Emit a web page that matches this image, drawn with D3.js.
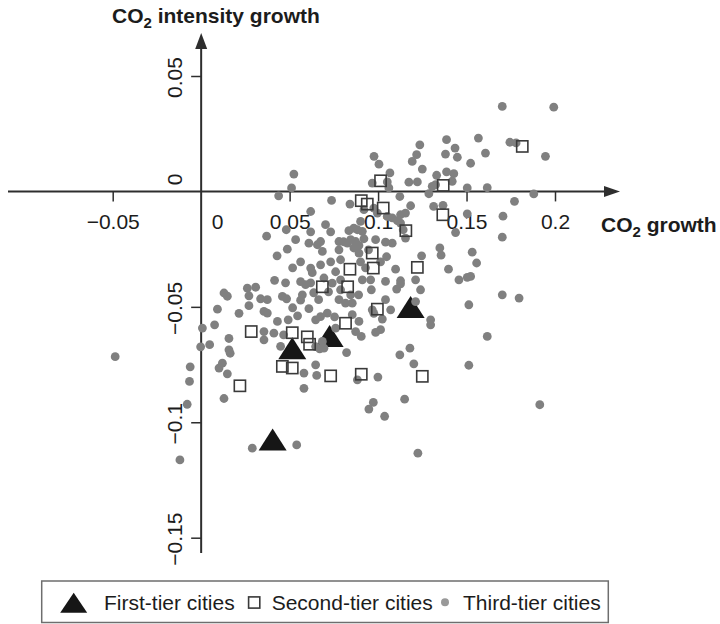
<!DOCTYPE html>
<html>
<head>
<meta charset="utf-8">
<script src="https://cdn.jsdelivr.net/npm/d3@7"></script>
<style>
  html, body { margin: 0; padding: 0; background: #fff; }
  svg { display: block; font-family: "Liberation Sans", Arial, Helvetica, sans-serif; }
</style>
</head>
<body>
<svg id="chart" width="720" height="624"></svg>
<script>
// [CO2 growth, CO2 intensity growth] per city
const firstTier = [
  [0.0404, -0.1090], [0.0515, -0.0695], [0.0726, -0.0642], [0.1184, -0.0517]
];

const secondTier = [
  [0.1014, 0.0046], [0.0905, -0.0040], [0.0939, -0.0055], [0.1029, -0.0072],
  [0.1368, 0.0026], [0.1366, -0.0101], [0.1157, -0.0170], [0.0967, -0.0267],
  [0.0973, -0.0332], [0.1222, -0.0329], [0.0841, -0.0337], [0.0828, -0.0413],
  [0.0685, -0.0413], [0.0996, -0.0510], [0.0816, -0.0571], [0.0732, -0.0799],
  [0.0905, -0.0792], [0.1250, -0.0801], [0.1815, 0.0195], [0.0283, -0.0607],
  [0.0515, -0.0612], [0.0600, -0.0630], [0.0613, -0.0662], [0.0459, -0.0758],
  [0.0515, -0.0765], [0.0219, -0.0842]
];

const thirdTier = [
  [0.0524, 0.0075], [0.0511, 0.0015], [0.0977, 0.0152], [0.1005, 0.0118], [0.0967, 0.0036],
  [0.1052, 0.0041], [0.1061, 0.0015], [0.1067, 0.0080], [0.1174, 0.0040], [0.1222, 0.0041],
  [0.1193, 0.0130], [0.1218, 0.0159], [0.1236, 0.0202], [0.1250, 0.0097], [0.1287, -0.0010],
  [0.1306, 0.0022], [0.1331, 0.0070], [0.1387, 0.0224], [0.1381, 0.0162], [0.1387, 0.0085],
  [0.1428, 0.0077], [0.1435, 0.0188], [0.1448, 0.0148], [0.1419, 0.0044], [0.1504, 0.0015],
  [0.1523, 0.0122], [0.1567, 0.0231], [0.1607, 0.0166], [0.1617, 0.0016], [0.1702, 0.0368],
  [0.1745, 0.0213], [0.1780, 0.0210], [0.1946, 0.0152], [0.1993, 0.0365], [0.1325, 0.0029],
  [0.0438, -0.0019], [0.0619, -0.0087], [0.0737, -0.0039], [0.0841, -0.0055], [0.1123, -0.0022],
  [0.1184, -0.0062], [0.1314, -0.0065], [0.1367, -0.0060], [0.1504, -0.0097], [0.1706, -0.0107],
  [0.1771, -0.0043], [0.1880, -0.0011], [0.0976, -0.0072], [0.0920, -0.0079], [0.1052, -0.0108],
  [0.1080, -0.0115], [0.1127, -0.0101], [0.1155, -0.0094], [0.0996, -0.0094], [0.0901, -0.0130],
  [0.1109, -0.0127], [0.1127, -0.0137], [0.0481, -0.0166], [0.0619, -0.0175], [0.0370, -0.0194],
  [0.0863, -0.0159], [0.0883, -0.0166], [0.0835, -0.0170], [0.0911, -0.0173], [0.1142, -0.0166],
  [0.1438, -0.0178], [0.1702, -0.0198],
  [0.0609, -0.0224], [0.0657, -0.0231], [0.0675, -0.0217], [0.0487, -0.0250], [0.0429, -0.0279],
  [0.0685, -0.0260], [0.0779, -0.0217], [0.0805, -0.0218], [0.0826, -0.0224], [0.0845, -0.0209],
  [0.0873, -0.0217], [0.0920, -0.0205], [0.0892, -0.0234], [0.0863, -0.0245], [0.0779, -0.0253],
  [0.0892, -0.0267], [0.0788, -0.0296], [0.1042, -0.0220], [0.1080, -0.0224], [0.1155, -0.0202],
  [0.1246, -0.0279], [0.1349, -0.0245], [0.1356, -0.0276], [0.1532, -0.0263], [0.1557, -0.0310],
  [0.0619, -0.0332], [0.0628, -0.0352], [0.0675, -0.0318], [0.1099, -0.0337], [0.1398, -0.0337],
  [0.1457, -0.0383], [0.1504, -0.0372], [0.0415, -0.0385], [0.0562, -0.0391], [0.0590, -0.0404],
  [0.0694, -0.0375], [0.0788, -0.0383], [0.0911, -0.0383], [0.0958, -0.0383], [0.1042, -0.0390],
  [0.1127, -0.0387], [0.1523, -0.0368],
  [0.0261, -0.0419], [0.0308, -0.0415], [0.0270, -0.0452], [0.0129, -0.0440], [0.0148, -0.0454],
  [0.0336, -0.0465], [0.0374, -0.0469], [0.0459, -0.0455], [0.0483, -0.0465], [0.0572, -0.0448],
  [0.0562, -0.0471], [0.0092, -0.0510], [0.0214, -0.0528], [0.0270, -0.0495], [0.0355, -0.0520],
  [0.0374, -0.0527], [0.0431, -0.0563], [0.0492, -0.0556], [0.0609, -0.0508], [0.0647, -0.0556],
  [0.0675, -0.0542], [0.0713, -0.0527], [0.0007, -0.0592], [0.0076, -0.0578], [0.0157, -0.0637],
  [0.0355, -0.0607], [0.0355, -0.0643], [0.0411, -0.0614], [0.0466, -0.0621], [0.0449, -0.0671],
  [-0.0003, -0.0673], [0.0048, -0.0664], [0.0157, -0.0686], [0.0164, -0.0701], [0.0120, -0.0744],
  [0.0101, -0.0765], [0.0148, -0.0790], [-0.0062, -0.0760], [-0.0066, -0.0823], [-0.0079, -0.0922],
  [0.0129, -0.0897], [-0.0120, -0.1163], [-0.0486, -0.0716], [0.0289, -0.1112], [0.0540, -0.1098],
  [0.0741, -0.0397], [0.0788, -0.0426], [0.0779, -0.0469], [0.0816, -0.0484], [0.0854, -0.0484],
  [0.1127, -0.0400], [0.1105, -0.0423], [0.0962, -0.0426], [0.1212, -0.0477], [0.0967, -0.0513],
  [0.0976, -0.0528], [0.1024, -0.0553], [0.0892, -0.0563], [0.0854, -0.0534], [0.1297, -0.0556],
  [0.1297, -0.0578], [0.1513, -0.0491], [0.1702, -0.0448], [0.1797, -0.0462], [0.0760, -0.0592],
  [0.0754, -0.0543], [0.0986, -0.0611], [0.1014, -0.0599], [0.0905, -0.0628], [0.0685, -0.0650],
  [0.0694, -0.0679], [0.0873, -0.0607],
  [0.0581, -0.0787], [0.0581, -0.0853], [0.0647, -0.0751], [0.0653, -0.0797], [0.0647, -0.0672],
  [0.0670, -0.0682], [0.0822, -0.0698], [0.1123, -0.0708], [0.1180, -0.0679], [0.1202, -0.0747],
  [0.1513, -0.0753], [0.0883, -0.0816], [0.0999, -0.0804], [0.1150, -0.0900], [0.0973, -0.0914],
  [0.0948, -0.0943], [0.1037, -0.0974], [0.1225, -0.1134], [0.1617, -0.0628], [0.1914, -0.0924],
  [0.0732, -0.0305], [0.0760, -0.0348], [0.0901, -0.0305], [0.0929, -0.0331], [0.1014, -0.0305],
  [0.1048, -0.0283], [0.0720, -0.0435], [0.0890, -0.0448], [0.1042, -0.0469], [0.1071, -0.0513],
  [0.0562, -0.0305], [0.0517, -0.0331], [0.0477, -0.0396], [0.0845, -0.0448], [0.0664, -0.0469],
  [0.0517, -0.0504], [0.0545, -0.0539], [0.0619, -0.0396], [0.0636, -0.0439], [0.0946, -0.0253],
  [0.0986, -0.0209], [0.0732, -0.0175], [0.0703, -0.0144], [0.0534, -0.0209], [0.1212, -0.0383],
  [0.1240, -0.0426]
];

const xTickValues = [-0.05, 0, 0.05, 0.1, 0.15, 0.2];
const xTickLabels = ["\u22120.05", "0", "0.05", "0.1", "0.15", "0.2"];
const yTickValues = [0.05, 0, -0.05, -0.1, -0.15];
const yTickLabels = ["0.05", "0", "\u22120.05", "\u22120.1", "\u22120.15"];
const seriesNames = ["First-tier cities", "Second-tier cities", "Third-tier cities"];

const svg = d3.select("#chart");
const ink = "#1c1c1c";
const axisColor = "#2e2e2e";
const dotColor = "#808080";
const squareColor = "#3a3a3a";
const fontSize = 21;

const x = d3.scaleLinear().domain([-0.05, 0.2]).range([112.7, 555]);
const y = d3.scaleLinear().domain([0.05, -0.15]).range([76, 537.7]);
const x0 = x(0), y0 = y(0);

// axis extents (data units) beyond the labelled range
const xAxisFrom = x.invert(8), xAxisTo = x.invert(620);
const yAxisTop = y.invert(33), yAxisBottom = y.invert(553);

// Triangle marker: flattened, centred on its centroid
function triPath(cx, cy, w = 28, h = 22) {
  return `M${cx},${cy - h * 2 / 3}L${cx + w / 2},${cy + h / 3}L${cx - w / 2},${cy + h / 3}Z`;
}

// ---- axes: crossing lines with arrow heads ----
const axes = svg.append("g");
axes.append("line")
  .attr("x1", x(xAxisFrom)).attr("x2", x(xAxisTo) - 10)
  .attr("y1", y0).attr("y2", y0)
  .attr("stroke", axisColor).attr("stroke-width", 2);
axes.append("path")
  .attr("d", `M${x(xAxisTo)},${y0}L${x(xAxisTo) - 16},${y0 - 5.5}L${x(xAxisTo) - 16},${y0 + 5.5}Z`)
  .attr("fill", axisColor);
axes.append("line")
  .attr("x1", x0).attr("x2", x0)
  .attr("y1", y(yAxisTop) + 10).attr("y2", y(yAxisBottom))
  .attr("stroke", axisColor).attr("stroke-width", 2);
axes.append("path")
  .attr("d", `M${x0},${y(yAxisTop)}L${x0 - 6},${y(yAxisTop) + 16}L${x0 + 6},${y(yAxisTop) + 16}Z`)
  .attr("fill", axisColor);

// x ticks and labels
const xAxisG = svg.append("g")
  .attr("transform", `translate(0,${y0})`)
  .call(d3.axisBottom(x)
    .tickValues(xTickValues)
    .tickSize(10)
    .tickPadding(13)
    .tickFormat((d, i) => xTickLabels[i]));
xAxisG.select(".domain").remove();
xAxisG.selectAll(".tick line").attr("stroke", axisColor).attr("stroke-width", 1.5)
  .filter(d => d === 0).remove();
xAxisG.selectAll(".tick text")
  .attr("fill", ink)
  .attr("font-size", fontSize)
  .attr("font-family", "'Liberation Sans', Arial, Helvetica, sans-serif")
  .attr("dx", d => d === 0 ? 16 : 0);

// y ticks and rotated labels
const yAxisG = svg.append("g")
  .attr("transform", `translate(${x0},0)`)
  .call(d3.axisLeft(y)
    .tickValues(yTickValues)
    .tickSize(10)
    .tickFormat((d, i) => yTickLabels[i]));
yAxisG.select(".domain").remove();
yAxisG.selectAll(".tick line").attr("stroke", axisColor).attr("stroke-width", 1.5)
  .filter(d => d === 0).remove();
yAxisG.selectAll(".tick text")
  .attr("fill", ink)
  .attr("font-size", fontSize)
  .attr("font-family", "'Liberation Sans', Arial, Helvetica, sans-serif")
  .attr("x", 0).attr("y", 0).attr("dy", 0)
  .attr("text-anchor", "middle")
  .attr("transform", d => `translate(-19.5,${d === 0 ? -12.5 : 1}) rotate(-90)`);

// axis titles with subscript 2
function co2Title(g, xPos, yPos, rest) {
  const t = g.append("text")
    .attr("x", xPos).attr("y", yPos)
    .attr("font-size", fontSize).attr("font-weight", "bold").attr("fill", ink);
  t.append("tspan").text("CO");
  t.append("tspan").attr("font-size", 15).attr("dy", 5).text("2");
  t.append("tspan").attr("dy", -5).text(rest);
}
co2Title(svg, 112, 23, " intensity growth");
co2Title(svg, 601, 231.5, " growth");

// ---- marks ----
const plot = svg.append("g");
plot.selectAll("path.first")
  .data(firstTier).join("path")
  .attr("class", "first")
  .attr("d", d => triPath(x(d[0]), y(d[1])))
  .attr("fill", "#161616");

plot.selectAll("circle.third")
  .data(thirdTier).join("circle")
  .attr("class", "third")
  .attr("cx", d => x(d[0])).attr("cy", d => y(d[1]))
  .attr("r", 4.4)
  .attr("fill", dotColor);

plot.selectAll("rect.second")
  .data(secondTier).join("rect")
  .attr("class", "second")
  .attr("x", d => x(d[0]) - 5.6).attr("y", d => y(d[1]) - 5.6)
  .attr("width", 11.2).attr("height", 11.2)
  .attr("fill", "none")
  .attr("stroke", squareColor).attr("stroke-width", 1.6);

// ---- legend ----
const legend = svg.append("g");
legend.append("rect")
  .attr("x", 41.7).attr("y", 581).attr("width", 566.6).attr("height", 41.5)
  .attr("fill", "#fff").attr("stroke", "#6e6e6e").attr("stroke-width", 1.5);
legend.append("path").attr("d", triPath(73.7, 606, 27, 20)).attr("fill", "#161616");
legend.append("rect")
  .attr("x", 248.6).attr("y", 596.9).attr("width", 11.2).attr("height", 11.2)
  .attr("fill", "none").attr("stroke", squareColor).attr("stroke-width", 1.6);
legend.append("circle").attr("cx", 445).attr("cy", 602.3).attr("r", 4).attr("fill", "#999");
const legendTextX = [104, 271.7, 463];
legend.selectAll("text.item")
  .data(seriesNames).join("text")
  .attr("class", "item")
  .attr("x", (d, i) => legendTextX[i]).attr("y", 609.5)
  .attr("font-size", fontSize).attr("fill", ink)
  .text(d => d);
</script>
</body>
</html>
